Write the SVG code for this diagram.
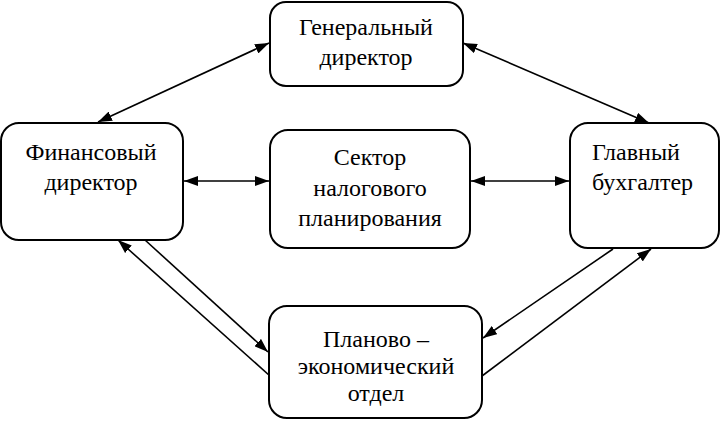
<svg xmlns="http://www.w3.org/2000/svg" width="721" height="421" viewBox="0 0 721 421">
<style>
.box{fill:#fff;stroke:#000;stroke-width:2}
text{font-family:'Liberation Serif','DejaVu Serif',serif;font-size:24px;fill:#000}
.c{text-anchor:middle}
.ln{stroke:#000;stroke-width:1.6;fill:none}
</style>
<defs>
<marker id="ah" markerUnits="userSpaceOnUse" markerWidth="14" markerHeight="10" refX="14" refY="5" orient="auto-start-reverse" viewBox="0 0 14 10">
<path d="M0,0 L14,5 L0,10 z" fill="#000"/>
</marker>
</defs>
<rect width="721" height="421" fill="#fff"/>
<g id="connectors">
<line class="ln" x1="98" y1="122" x2="269" y2="43" marker-start="url(#ah)" marker-end="url(#ah)"/>
<line class="ln" x1="463" y1="43" x2="649" y2="123" marker-start="url(#ah)" marker-end="url(#ah)"/>
<line class="ln" x1="184" y1="181" x2="269" y2="181" marker-start="url(#ah)" marker-end="url(#ah)"/>
<line class="ln" x1="471" y1="181" x2="569" y2="181" marker-start="url(#ah)" marker-end="url(#ah)"/>
<line class="ln" x1="145" y1="240" x2="268" y2="352" marker-end="url(#ah)"/>
<line class="ln" x1="270" y1="376" x2="118" y2="240" marker-end="url(#ah)"/>
<line class="ln" x1="613" y1="249" x2="483" y2="338" marker-end="url(#ah)"/>
<line class="ln" x1="482" y1="376" x2="651" y2="249" marker-end="url(#ah)"/>
</g>
<g id="gen">
<rect class="box" x="270" y="2" width="193" height="84" rx="16"/>
<text class="c" x="366" y="35">Генеральный</text>
<text class="c" x="366" y="65">директор</text>
</g>
<g id="fin">
<rect class="box" x="1" y="123" width="182" height="117" rx="18"/>
<text class="c" x="91" y="160">Финансовый</text>
<text class="c" x="91" y="190">директор</text>
</g>
<g id="sector">
<rect class="box" x="270" y="130" width="200" height="118" rx="18"/>
<text class="c" x="370" y="165">Сектор</text>
<text class="c" x="370" y="196">налогового</text>
<text class="c" x="370" y="226">планирования</text>
</g>
<g id="buh">
<rect class="box" x="570" y="123" width="149" height="125" rx="18"/>
<text x="592" y="160">Главный</text>
<text x="592" y="190">бухгалтер</text>
</g>
<g id="plan">
<rect class="box" x="269" y="306" width="213" height="112" rx="18"/>
<text class="c" x="376" y="347">Планово –</text>
<text class="c" x="376" y="374">экономический</text>
<text class="c" x="376" y="401">отдел</text>
</g>
</svg>
